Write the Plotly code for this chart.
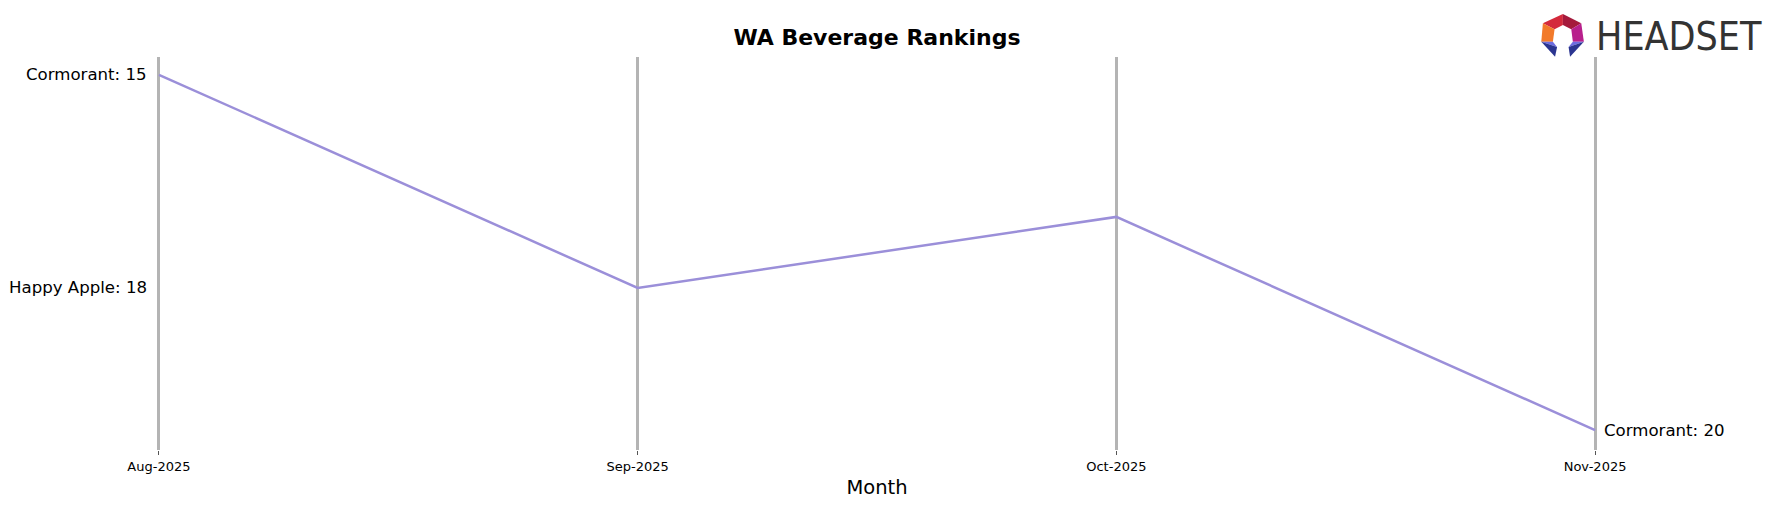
import plotly.graph_objects as go

# ---- data ----
months = ["Aug-2025", "Sep-2025", "Oct-2025", "Nov-2025"]
ranks = [15, 18, 17, 20]
left_label_brands = ["Cormorant", "Happy Apple"]
left_label_ranks = [15, 18]
end_label_brand = "Cormorant"

title_text = "WA Beverage Rankings"
x_title = "Month"

# ---- layout geometry (page pixels; page body has an 8px margin) ----
OFF = 8
PAGE_W, PAGE_H = 1778, 507
W_PX, H_PX = PAGE_W - 2 * OFF, PAGE_H - 2 * OFF
L, T = 134.85 - OFF, 57.0 - OFF
PW, PH = 1484.6, 393.0
R = W_PX - L - PW
B = H_PX - T - PH

def px2paper(x, y):
    # x, y are page pixel coordinates
    x -= OFF
    y -= OFF
    return (x - L) / PW, 1 - (y - T) / PH

xs = list(range(len(months)))

fig = go.Figure()
fig.add_trace(go.Scatter(
    x=xs, y=ranks, mode="lines",
    line=dict(color="#9b8fd9", width=2.5),
    hovertemplate="%{y}<extra></extra>",
    showlegend=False,
))

annotations = []
for b, r in zip(left_label_brands, left_label_ranks):
    annotations.append(dict(
        x=0, y=r, xref="x", yref="y", text=f"{b}: {r}", showarrow=False,
        xanchor="right", yanchor="middle", xshift=-10,
        font=dict(size=16.6, color="#000000", family="DejaVu Sans"),
    ))
annotations.append(dict(
    x=xs[-1], y=ranks[-1], xref="x", yref="y", text=f"{end_label_brand}: {ranks[-1]}",
    showarrow=False, xanchor="left", yanchor="middle", xshift=7,
    font=dict(size=16.6, color="#000000", family="DejaVu Sans"),
))

# logo text
lx, ly = px2paper(1594, 37)
annotations.append(dict(
    x=lx, y=ly, xref="paper", yref="paper", text="HEADSET", showarrow=False,
    xanchor="left", yanchor="middle",
    font=dict(size=39, color="#333333", family="Liberation Sans Narrow, DejaVu Sans Condensed, Arial Narrow, sans-serif"),
))

# logo icon polygons (page pixel coords)
apex = (1563.3, 14)
ulo, uro = (1543.3, 23.3), (1581.7, 23.3)
lo, ro = (1541.7, 41.7), (1584.3, 41.7)
it = (1563.3, 25)
uli, uri = (1555.0, 29.3), (1571.7, 29.3)
li, ri = (1553.3, 41.7), (1573.3, 41.7)
lmid, rmid = (1557.5, 47.0), (1569.0, 47.0)
ltip, rtip = (1555.5, 56.7), (1570.5, 56.7)

polys = [
    ([apex, ulo, uli, it], "#d42a3c"),
    ([apex, it, uri, uro], "#a51a3c"),
    ([ulo, lo, li, uli], "#f27a2a"),
    ([uro, uri, ri, ro], "#b8208c"),
    ([lo, li, lmid], "#6d6ce0"),
    ([lo, lmid, ltip], "#2b3590"),
    ([ro, ri, rmid], "#6d6ce0"),
    ([ro, rmid, rtip], "#2b3590"),
]
shapes = []
for pts, col in polys:
    pp = [px2paper(*p) for p in pts]
    path = "M " + " L ".join(f"{a:.5f},{b:.5f}" for a, b in pp) + " Z"
    shapes.append(dict(type="path", path=path, xref="paper", yref="paper",
                       fillcolor=col, line=dict(width=0), layer="above"))

fig.update_layout(
    width=W_PX, height=H_PX,
    margin=dict(l=L, r=R, t=T, b=B, pad=0, autoexpand=False),
    paper_bgcolor="white", plot_bgcolor="white",
    font=dict(family="DejaVu Sans", color="#000000"),
    title=dict(text=f"<b>{title_text}</b>", x=0.5, xref="paper", xanchor="center",
               y=1 - (37 - OFF) / H_PX, yref="container", yanchor="middle",
               font=dict(size=22, color="#000000", family="DejaVu Sans")),
    xaxis=dict(
        range=[-0.05, len(months) - 1 + 0.05],
        tickmode="array", tickvals=xs, ticktext=months,
        showgrid=True, gridcolor="#b4b4b4", gridwidth=2.5,
        zeroline=False, showline=False,
        ticks="outside", ticklen=4, tickwidth=1, tickcolor="#555555",
        tickfont=dict(size=13, color="#000000"),
        title=dict(text=x_title, font=dict(size=19.5, color="#000000"), standoff=7),
        automargin=False,
        fixedrange=True,
    ),
    yaxis=dict(
        range=[20.28, 14.75],
        showgrid=False, zeroline=False, showline=False,
        showticklabels=False, ticks="",
        automargin=False,
        fixedrange=True,
    ),
    annotations=annotations,
    shapes=shapes,
    showlegend=False,
)

fig.write_html("out.html")
